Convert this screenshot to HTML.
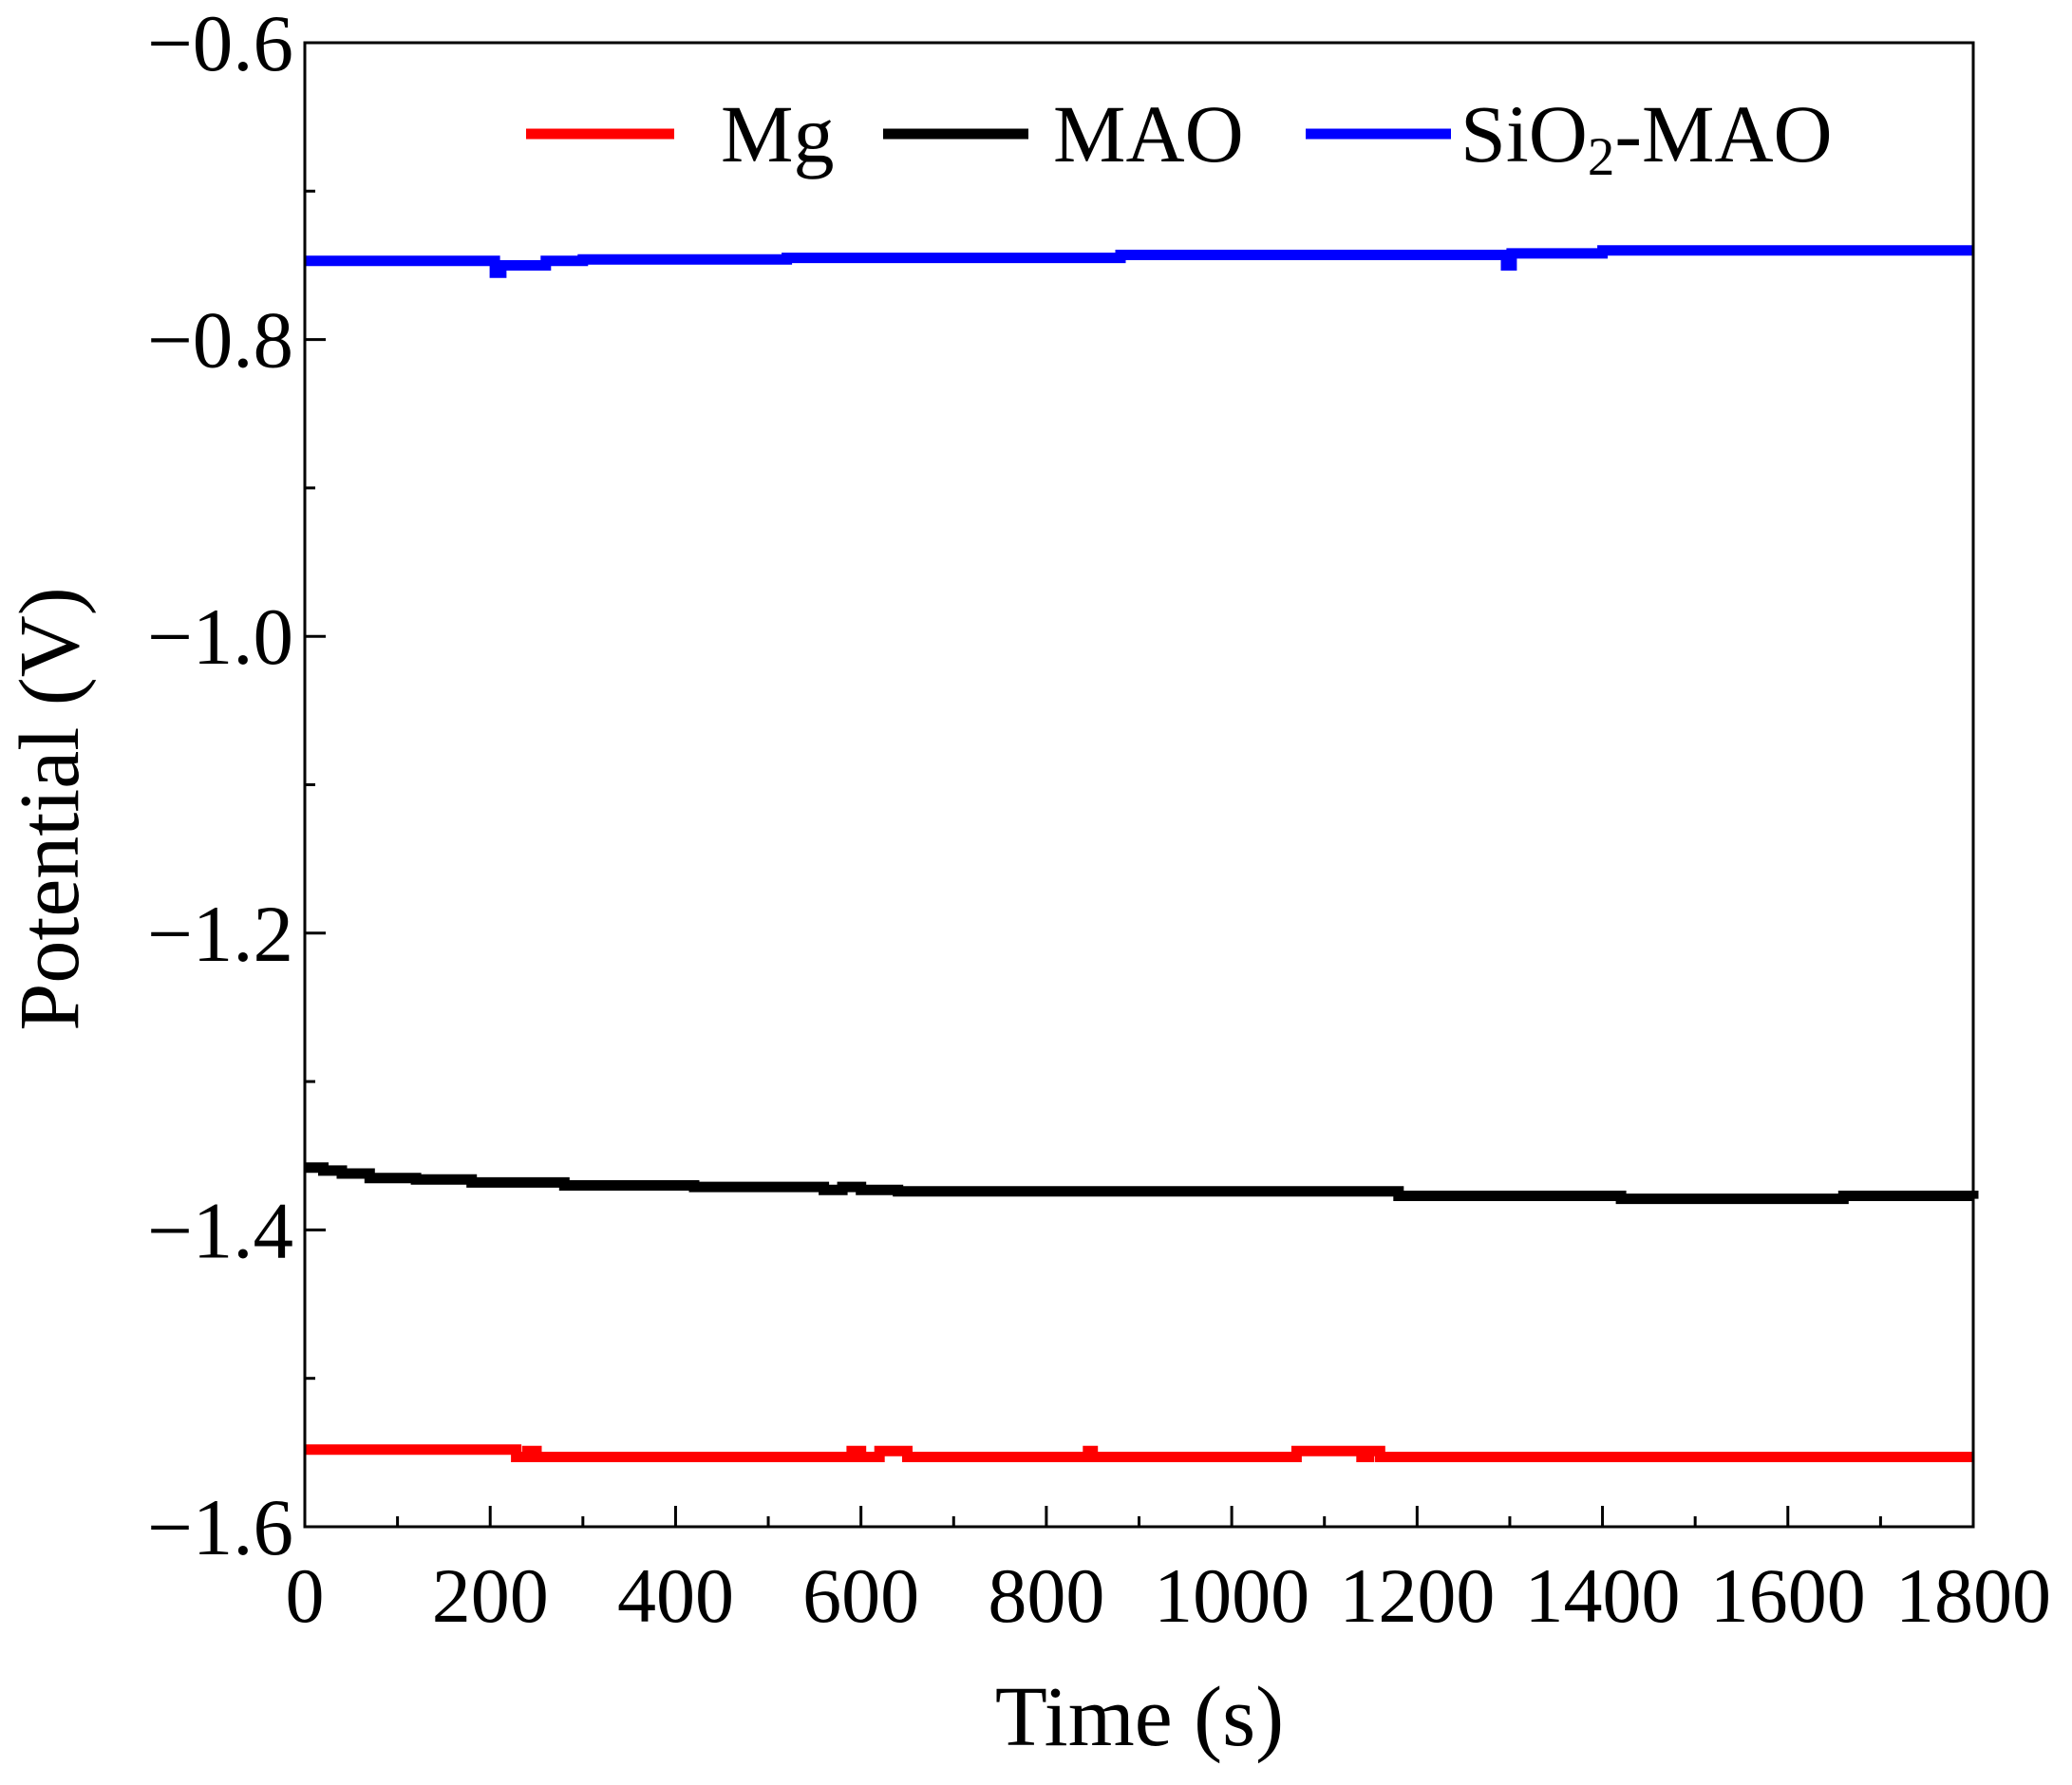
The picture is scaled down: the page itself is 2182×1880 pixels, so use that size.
<!DOCTYPE html>
<html><head><meta charset="utf-8"><style>
body{margin:0;background:#fff}
svg text{font-family:"Liberation Serif",serif;fill:#000}
</style></head><body>
<svg id="chart" width="2182" height="1875" viewBox="0 0 2182 1875" xmlns="http://www.w3.org/2000/svg">
<g id="marks"></g>
<g id="axes"></g>
<g>
 <line x1="554" y1="141" x2="710" y2="141" stroke="#f00" stroke-width="11"/>
 <text x="759" y="170" font-size="86">Mg</text>
 <line x1="930" y1="141" x2="1083" y2="141" stroke="#000" stroke-width="11"/>
 <text x="1109" y="170" font-size="86">MAO</text>
 <line x1="1375" y1="141" x2="1528" y2="141" stroke="#00f" stroke-width="11"/>
 <text x="1538" y="170" font-size="86">SiO<tspan font-size="57" dy="14">2</tspan><tspan dy="-14">-MAO</tspan></text>
</g>
<text x="1200" y="1838" font-size="90" text-anchor="middle">Time (s)</text>
<text transform="translate(82,852) rotate(-90)" font-size="90" text-anchor="middle">Potential (V)</text>
</svg>
<script>
const xTicks=[0,200,400,600,800,1000,1200,1400,1600,1800];
const yTicks=[-0.6,-0.8,-1.0,-1.2,-1.4,-1.6];
const yTickLabels=["\u22120.6","\u22120.8","\u22121.0","\u22121.2","\u22121.4","\u22121.6"];
const mgTime=[0,220,228,240,250,262,580,590,600,620,640,650,840,845,850,1070,1100,1140,1148,1160,1170,1800];
const mgVal=[-1.548,-1.548,-1.553,-1.549,-1.553,-1.553,-1.553,-1.549,-1.553,-1.549,-1.549,-1.553,-1.553,-1.549,-1.553,-1.549,-1.549,-1.553,-1.549,-1.553,-1.553,-1.553];
const maoTime=[0,20,40,70,120,180,280,420,560,580,600,640,1160,1180,1400,1420,1620,1660,1800];
const maoVal=[-1.358,-1.360,-1.362,-1.365,-1.366,-1.368,-1.370,-1.371,-1.373,-1.371,-1.373,-1.374,-1.374,-1.377,-1.377,-1.379,-1.379,-1.377,-1.379];
const sioTime=[0,195,205,212,222,260,300,520,880,1290,1296,1302,1400,1800];
const sioVal=[-0.747,-0.747,-0.755,-0.750,-0.750,-0.747,-0.746,-0.745,-0.743,-0.743,-0.750,-0.742,-0.740,-0.740];
const L=321,R=2078,T=45,B=1608;
const X=v=>L+(v-0)/(1800-0)*(R-L);
const Y=v=>T+(-0.6-v)/(1.0)*(B-T);
const NS="http://www.w3.org/2000/svg";
const marks=document.getElementById('marks'),axes=document.getElementById('axes');
function mk(tag,attrs,parent){const e=document.createElementNS(NS,tag);for(const k in attrs)e.setAttribute(k,attrs[k]);parent.appendChild(e);return e;}
function series(t,v,color,name){
 let d='M'+X(t[0]).toFixed(1)+' '+Y(v[0]).toFixed(1);
 for(let i=1;i<t.length;i++){d+=' H'+X(t[i]).toFixed(1)+' V'+Y(v[i]).toFixed(1);}
 const p=mk('path',{d:d,fill:'none',stroke:color,'stroke-width':11,'stroke-linejoin':'miter'},marks);
 
 
}
series(mgTime,mgVal,'#f00','mg-series');
series(maoTime,maoVal,'#000','mao-series');
series(sioTime,sioVal,'#00f','sio2-mao-series');
const frame=mk('rect',{x:L,y:T,width:R-L,height:B-T,fill:'none',stroke:'#000','stroke-width':3},axes);


for(let v=0;v<=1800;v+=100){
 const major=v%200===0;
 const tk=mk('line',{x1:X(v),x2:X(v),y1:B,y2:B-(major?22:11),stroke:'#000','stroke-width':3},axes);
 
 
}
xTicks.forEach(v=>{
 const t=mk('text',{x:X(v),y:B+100,'font-size':82,'text-anchor':'middle'},axes);
 t.textContent=String(v);
 
 
});
for(let i=0;i<=10;i++){
 const v=-0.6-i*0.1;const major=i%2===0;
 const tk=mk('line',{x1:L,x2:L+(major?22:11),y1:Y(v),y2:Y(v),stroke:'#000','stroke-width':3},axes);
 
 
}
yTicks.forEach((v,i)=>{
 const t=mk('text',{x:L-12,y:Y(v)+29,'font-size':85,'text-anchor':'end'},axes);
 t.textContent=yTickLabels[i];
 
 
});
</script>
</body></html>
